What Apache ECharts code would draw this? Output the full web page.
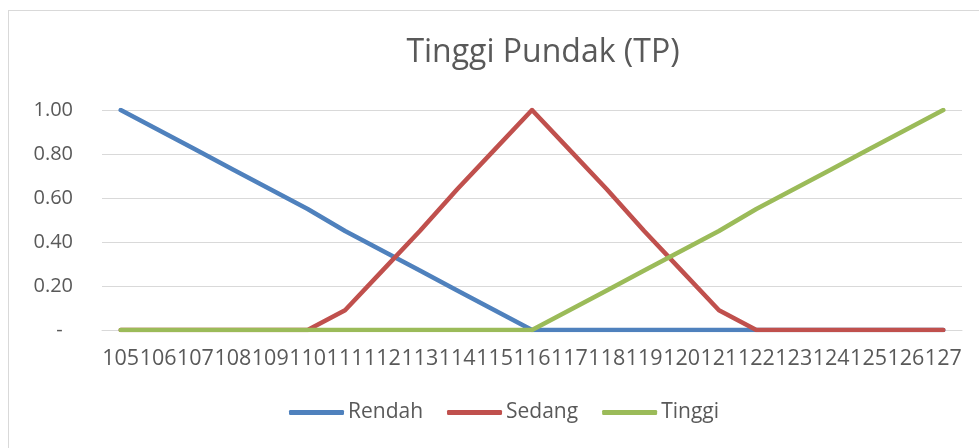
<!DOCTYPE html>
<html>
<head>
<meta charset="utf-8">
<script src="https://cdn.jsdelivr.net/npm/echarts@6/dist/echarts.min.js"></script>
<style>
  html, body { margin: 0; padding: 0; background: #fff; }
  #frame { position: absolute; left: 8px; top: 10px; width: 990px; height: 460px; border: 1px solid #d9d9d9; box-sizing: border-box; }
  #chart { position: absolute; left: 0; top: 0; width: 979px; height: 448px; }
</style>
</head>
<body>
<div id="frame"></div>
<div id="chart"></div>
<script>
// kategori tinggi pundak
var categories = ['105','106','107','108','109','110','111','112','113','114','115','116',
                  '117','118','119','120','121','122','123','124','125','126','127'];
var rendah = [1.00, 0.91, 0.82, 0.73, 0.64, 0.55, 0.45, 0.36, 0.27, 0.18, 0.09, 0,
              0, 0, 0, 0, 0, 0, 0, 0, 0, 0, 0];
var sedang = [0, 0, 0, 0, 0, 0, 0.09, 0.27, 0.45, 0.64, 0.82, 1.00,
              0.82, 0.64, 0.45, 0.27, 0.09, 0, 0, 0, 0, 0, 0];
var tinggi = [0, 0, 0, 0, 0, 0, 0, 0, 0, 0, 0, 0,
              0.09, 0.18, 0.27, 0.36, 0.45, 0.55, 0.64, 0.73, 0.82, 0.91, 1.00];

var font = '"Open Sans", sans-serif';
var txt = '#595959';

var chart = echarts.init(document.getElementById('chart'));

function lineSeries(name, data, color) {
    return {
        name: name,
        type: 'line',
        data: data,
        symbol: 'none',
        lineStyle: { color: color, width: 4.5, cap: 'round', join: 'round' },
        itemStyle: { color: color },
        animation: false
    };
}

chart.setOption({
    animation: false,
    title: {
        text: 'Tinggi Pundak (TP)',
        left: 538,
        textAlign: 'center',
        top: 32,
        textStyle: { fontFamily: font, fontSize: 32, fontWeight: 'normal', color: txt }
    },
    legend: {
        data: ['Rendah', 'Sedang', 'Tinggi'],
        left: 289,
        top: 402,
        padding: 0,
        icon: 'roundRect',
        itemWidth: 55,
        itemHeight: 5,
        itemGap: 24,
        textStyle: { fontFamily: font, fontSize: 21, color: txt, padding: [0, 0, 0, -1] }
    },
    grid: { left: 102, right: 17, top: 110, bottom: 118 },
    xAxis: {
        type: 'category',
        data: categories,
        boundaryGap: true,
        axisLine: { lineStyle: { color: '#d9d9d9', width: 1 } },
        axisTick: { show: false },
        axisLabel: { interval: 0, margin: 18, fontFamily: font, fontSize: 21.5, color: txt }
    },
    yAxis: {
        type: 'value',
        min: 0,
        max: 1,
        interval: 0.2,
        axisLine: { show: false },
        axisTick: { show: false },
        splitLine: { lineStyle: { color: '#d9d9d9', width: 1 } },
        axisLabel: {
            margin: 29,
            fontFamily: font, fontSize: 20, color: txt,
            formatter: function (v) { return v === 0 ? '-  ' : v.toFixed(2); }
        }
    },
    series: [
        lineSeries('Rendah', rendah, '#4F81BD'),
        lineSeries('Sedang', sedang, '#C0504D'),
        lineSeries('Tinggi', tinggi, '#9BBB59')
    ]
});
</script>
</body>
</html>
